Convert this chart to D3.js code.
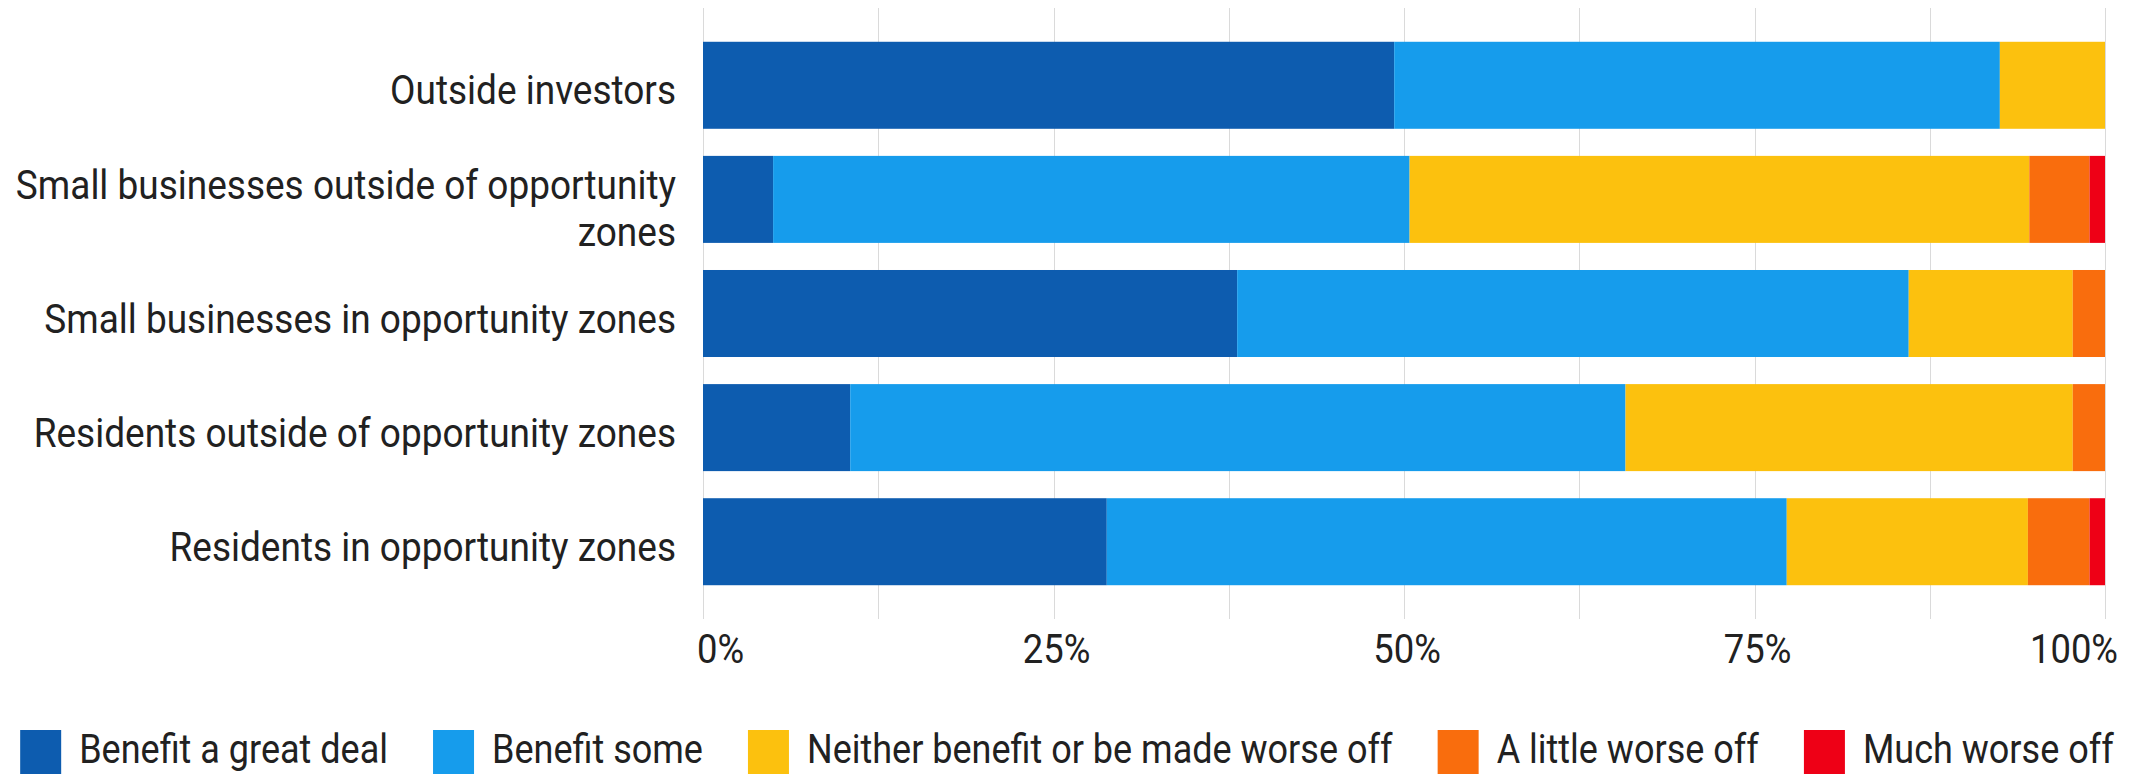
<!DOCTYPE html>
<html>
<head>
<meta charset="utf-8">
<script src="https://cdn.jsdelivr.net/npm/d3@7"></script>
<style>
  body { margin: 0; background: #fff; }
  text { font-family: Roboto, "Open Sans", sans-serif; fill: #212121; }
</style>
</head>
<body>
<svg id="chart"></svg>
<script>
// Chart data (percent of respondents).
const categories = [
  "Outside investors",
  "Small businesses outside of opportunity zones",
  "Small businesses in opportunity zones",
  "Residents outside of opportunity zones",
  "Residents in opportunity zones"
];
const responses = [
  "Benefit a great deal",
  "Benefit some",
  "Neither benefit or be made worse off",
  "A little worse off",
  "Much worse off"
];
const greatDeal   = [49.3,  5.0, 38.1, 10.5, 28.8];
const benefitSome = [43.2, 45.4, 47.9, 55.3, 48.5];
const neither     = [ 7.5, 44.2, 11.7, 31.9, 17.2];
const littleWorse = [ 0.0,  4.3,  2.3,  2.3,  4.4];
const muchWorse   = [ 0.0,  1.1,  0.0,  0.0,  1.1];
const tickValues = [0, 25, 50, 75, 100];
const tickLabels = ["0%", "25%", "50%", "75%", "100%"];
const colors = ["#0d5caf", "#169cec", "#fcc10e", "#f96d0d", "#ee0016"];

// Set svg size.
const width = 2134;
const height = 774;
const fontSize = 40;
// The reference font is a little narrower than Roboto.
const squeeze = 0.91;
const labelSqueeze = 0.925;
const legendSqueeze = 0.9;

const svg = d3.select("#chart")
  .attr("width", width)
  .attr("height", height);

function translate(x, y) {
  return "translate(" + String(x) + "," + String(y) + ")";
}

// Build one row per category for d3.stack.
const seriesValues = [greatDeal, benefitSome, neither, littleWorse, muchWorse];
const table = categories.map((c, i) => {
  let row = { category: c };
  responses.forEach((r, j) => { row[r] = seriesValues[j][i]; });
  return row;
});
const stacked = d3.stack().keys(responses)(table);

const xScale = d3.scaleLinear()
  .domain([0, 100])
  .range([703, 2105]);

const yScale = d3.scaleBand()
  .domain(categories)
  .range([8, 619])
  .paddingInner(0.2375)
  .paddingOuter(0.296);

const colorScale = d3.scaleOrdinal()
  .domain(responses)
  .range(colors);

// Wait for the font so text measuring is right.
document.fonts.load(fontSize + "px Roboto").then(() => {
  drawGrid();
  drawBars();
  drawAxis();
  drawLabels();
  drawLegend();
});

/*
 * light vertical gridlines every 12.5%
 */
function drawGrid() {
  svg.append("g")
    .attr("id", "grid")
    .selectAll("line")
    .data(d3.range(0, 100.01, 12.5))
    .enter()
    .append("line")
    .attr("x1", d => Math.round(xScale(d)) + 0.5)
    .attr("x2", d => Math.round(xScale(d)) + 0.5)
    .attr("y1", yScale.range()[0])
    .attr("y2", yScale.range()[1])
    .attr("stroke", "#dadada")
    .attr("stroke-width", 1);
}

function drawBars() {
  let groups = svg.append("g")
    .attr("id", "bars")
    .selectAll("g")
    .data(stacked)
    .enter()
    .append("g")
    .attr("fill", d => colorScale(d.key));

  groups.selectAll("rect")
    .data(d => d)
    .enter()
    .filter(d => d[1] - d[0] > 0)
    .append("rect")
    .attr("x", d => xScale(d[0]))
    .attr("width", d => xScale(d[1]) - xScale(d[0]))
    .attr("y", d => yScale(d.data.category))
    .attr("height", yScale.bandwidth());
}

/*
 * percent tick labels under the plot, kept inside the plot edges
 */
function drawAxis() {
  let ticks = svg.append("g")
    .attr("id", "x-axis")
    .selectAll("g")
    .data(tickValues)
    .enter()
    .append("g")
    .attr("transform", (d, i) => {
      let dx = 3;
      if (i == 0) dx = -6;
      if (i == tickValues.length - 1) dx = 13;
      return translate(xScale(d) + dx, 663) + " scale(" + squeeze + ",1)";
    });

  ticks.append("text")
    .attr("font-size", fontSize)
    .attr("text-anchor", (d, i) => {
      if (i == 0) return "start";
      if (i == tickValues.length - 1) return "end";
      return "middle";
    })
    .text((d, i) => tickLabels[i]);
}

/*
 * category labels, right aligned, wrapped when too long
 */
function drawLabels() {
  const maxWidth = 700;
  const lineHeight = 47;

  let labels = svg.append("g")
    .attr("id", "labels")
    .selectAll("g")
    .data(categories)
    .enter()
    .append("g")
    .attr("transform", d => translate(676, yScale(d) + yScale.bandwidth() / 2) +
      " scale(" + labelSqueeze + ",1)");

  labels.each(function(d) {
    let g = d3.select(this);
    let words = d.split(" ");
    let lines = [];
    let current = [];
    let probe = g.append("text").attr("font-size", fontSize);
    words.forEach(w => {
      let test = current.concat([w]).join(" ");
      probe.text(test);
      if (probe.node().getComputedTextLength() * labelSqueeze > maxWidth && current.length) {
        lines.push(current.join(" "));
        current = [w];
      } else {
        current.push(w);
      }
    });
    lines.push(current.join(" "));
    probe.remove();

    let first = 19 - (lines.length - 1) * 19;
    lines.forEach((line, i) => {
      g.append("text")
        .attr("font-size", fontSize)
        .attr("text-anchor", "end")
        .attr("y", first + i * lineHeight)
        .text(line);
    });
  });
}

/*
 * centered legend row at the bottom
 */
function drawLegend() {
  const swatch = 41;
  const textGap = 18;
  const itemGap = 45;

  let legend = svg.append("g").attr("id", "legend");

  // measure the drawn text widths first
  let probe = legend.append("g")
    .append("text")
    .attr("font-size", fontSize);
  let widths = responses.map(r => {
    probe.text(r);
    return probe.node().getBBox().width * legendSqueeze;
  });
  probe.remove();

  let total = d3.sum(widths) + responses.length * (swatch + textGap) +
    (responses.length - 1) * itemGap;
  let x = (width - total) / 2;

  responses.forEach((r, i) => {
    let item = legend.append("g").attr("transform", translate(x, 0));
    item.append("rect")
      .attr("x", 0)
      .attr("y", 730)
      .attr("width", swatch)
      .attr("height", 44)
      .attr("fill", colorScale(r));
    item.append("g")
      .attr("transform", translate(swatch + textGap, 763) + " scale(" + legendSqueeze + ",1)")
      .append("text")
      .attr("font-size", fontSize)
      .text(r);
    x += swatch + textGap + widths[i] + itemGap;
  });
}
</script>
</body>
</html>
